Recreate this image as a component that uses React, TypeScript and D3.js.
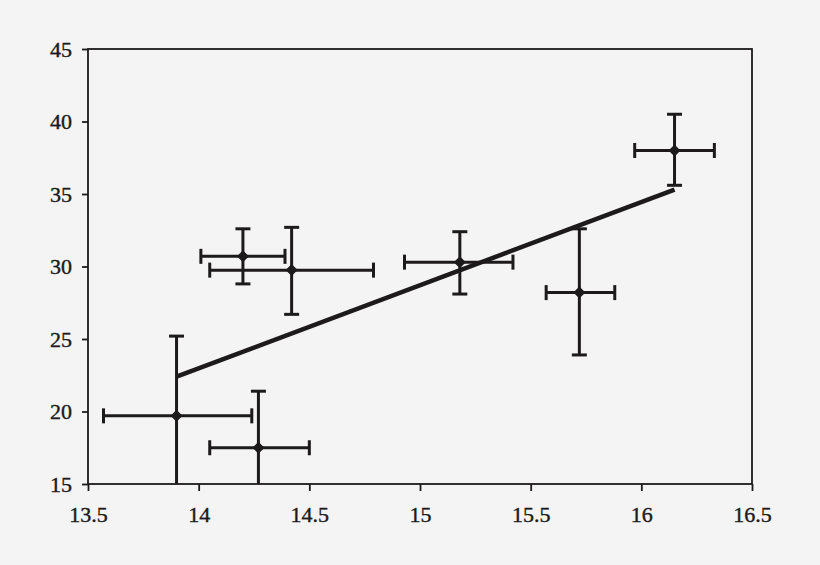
import { useRef, useEffect } from 'react';
import * as d3 from 'd3';

// x / y centers and error extents
const xValues = [13.9, 14.27, 14.2, 14.42, 15.18, 15.72, 16.15];
const yValues = [19.7, 17.5, 30.7, 29.75, 30.3, 28.2, 38.0];
const xLow = [13.57, 14.05, 14.01, 14.05, 14.93, 15.57, 15.97];
const xHigh = [14.24, 14.5, 14.39, 14.79, 15.42, 15.88, 16.33];
const yLow = [14.0, 14.0, 28.8, 26.7, 28.1, 23.9, 35.6];
const yHigh = [25.2, 21.4, 32.6, 32.7, 32.4, 32.6, 40.5];

// fitted line end points
const fitX = [13.9, 16.15];
const fitY = [22.4, 35.3];

const xTicks = [13.5, 14, 14.5, 15, 15.5, 16, 16.5];
const yTicks = [15, 20, 25, 30, 35, 40, 45];

const W = 820;
const H = 565;
const INK = '#1c1a1a';
const FONT = "'Liberation Serif', 'Times New Roman', serif";

export default function App() {
  const svgRef = useRef<SVGSVGElement>(null);

  useEffect(() => {
    if (!svgRef.current) return;
    const svg = d3.select(svgRef.current);
    svg.selectAll('*').remove();

    const left = 88, right = 752, top = 49, bottom = 484;

    const x = d3.scaleLinear().domain([13.5, 16.5]).range([left, right]);
    const y = d3.scaleLinear().domain([15, 45]).range([bottom, top]);

    svg.append('rect').attr('width', W).attr('height', H).attr('fill', '#f4f4f4');

    // frame
    svg.append('rect')
      .attr('x', left).attr('y', top)
      .attr('width', right - left).attr('height', bottom - top)
      .attr('fill', 'none').attr('stroke', INK).attr('stroke-width', 1.8);

    // clip for bars that run below the axis
    svg.append('clipPath').attr('id', 'plot-clip')
      .append('rect').attr('x', left).attr('y', top)
      .attr('width', right - left).attr('height', bottom - top);

    // axes
    const fmt = (d: d3.NumberValue) => String(d);
    const xAxis = svg.append('g')
      .attr('transform', `translate(0,${bottom})`)
      .call(d3.axisBottom(x).tickValues(xTicks).tickFormat(fmt).tickSize(7).tickPadding(16));
    const yAxis = svg.append('g')
      .attr('transform', `translate(${left},0)`)
      .call(d3.axisLeft(y).tickValues(yTicks).tickFormat(fmt).tickSize(6).tickPadding(10));

    [xAxis, yAxis].forEach(a => {
      a.attr('font-family', FONT).attr('font-size', 22);
      a.select('.domain').remove();
      a.selectAll('line').attr('stroke', INK).attr('stroke-width', 1.8);
      a.selectAll('text')
        .attr('fill', INK)
        .attr('stroke', INK)
        .attr('stroke-width', 0.4)
        .style('font-family', FONT)
        .style('font-size', '22px');
    });
    yAxis.selectAll('text').attr('dy', '0.34em');
    xAxis.selectAll('text').attr('dy', '0.7em');

    const g = svg.append('g').attr('clip-path', 'url(#plot-clip)');

    // fitted line
    g.append('line')
      .attr('x1', x(fitX[0])).attr('y1', y(fitY[0]))
      .attr('x2', x(fitX[1])).attr('y2', y(fitY[1]))
      .attr('stroke', INK).attr('stroke-width', 4.5);

    const cap = 7.5;
    xValues.forEach((xv, i) => {
      const cx = x(xv), cy = y(yValues[i]);
      const bar = g.append('g').attr('stroke', INK).attr('stroke-width', 3).attr('fill', 'none');

      // vertical bar
      bar.append('line').attr('x1', cx).attr('x2', cx).attr('y1', y(yLow[i])).attr('y2', y(yHigh[i]));
      bar.append('line').attr('x1', cx - cap).attr('x2', cx + cap).attr('y1', y(yHigh[i])).attr('y2', y(yHigh[i]));
      if (yLow[i] >= 15) {
        bar.append('line').attr('x1', cx - cap).attr('x2', cx + cap).attr('y1', y(yLow[i])).attr('y2', y(yLow[i]));
      }

      // horizontal bar
      bar.append('line').attr('x1', x(xLow[i])).attr('x2', x(xHigh[i])).attr('y1', cy).attr('y2', cy);
      bar.append('line').attr('x1', x(xLow[i])).attr('x2', x(xLow[i])).attr('y1', cy - cap).attr('y2', cy + cap);
      bar.append('line').attr('x1', x(xHigh[i])).attr('x2', x(xHigh[i])).attr('y1', cy - cap).attr('y2', cy + cap);

      // diamond marker
      g.append('path')
        .attr('d', d3.symbol(d3.symbolSquare, 72)())
        .attr('transform', `translate(${cx},${cy}) rotate(45)`)
        .attr('fill', INK);
    });
  }, []);

  return (
    <svg
      ref={svgRef}
      width={W}
      height={H}
      style={{ position: 'absolute', left: 0, top: 0, display: 'block', fontFamily: FONT }}
    />
  );
}
